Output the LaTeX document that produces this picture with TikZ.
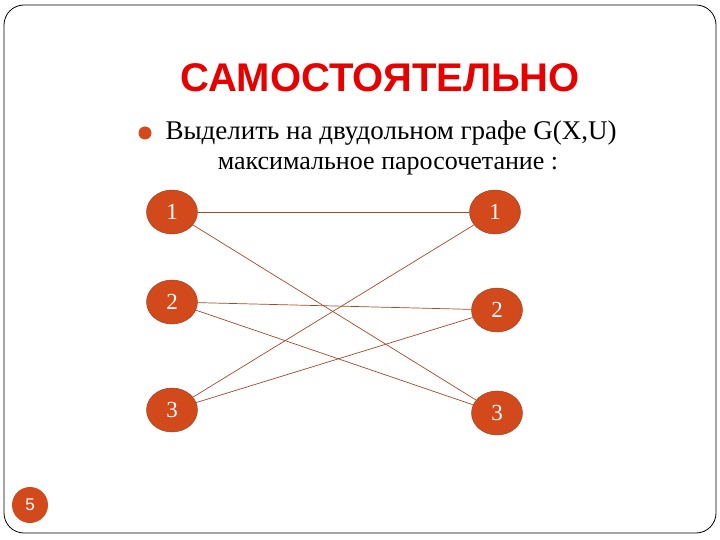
\documentclass[tikz,border=0pt]{standalone}
\usepackage{fontspec}
\setmainfont{Liberation Serif}
\newfontfamily\titlefont{Liberation Sans}
\usetikzlibrary{positioning,shapes.geometric}

\definecolor{knot}{HTML}{D24A1C}
\definecolor{knotrand}{HTML}{9A3A18}
\definecolor{kante}{HTML}{A3482A}
\definecolor{titelrot}{HTML}{E60000}

\begin{document}
\begin{tikzpicture}[
		x=1pt, y=-1pt,
		vtx/.style={
			ellipse, draw=knotrand, fill=knot, text=white,
			minimum width=51pt, minimum height=44pt, inner sep=0pt,
			font=\fontsize{23}{23}\selectfont
		},
		edge/.style={draw=kante, line width=0.7pt}
		]
		\useasboundingbox (0,0) rectangle (720,540);
		% ---- Rahmen
		\draw[line width=0.8pt, rounded corners=20pt] (4,5) rectangle (716,533);
		
		% ---- Titel und Aufgabe
		\node[text=titelrot, font=\titlefont\bfseries\fontsize{40}{40}\selectfont] (titel) at (380,78) {САМОСТОЯТЕЛЬНО};
		\node[anchor=west, font=\fontsize{27}{27}\selectfont] (zeile1) at (162,133) {Выделить на двудольном графе G(X,U)};
		\node[font=\fontsize{26}{26}\selectfont] (zeile2) at (388,166) {максимальное паросочетание :};
		\node[circle, fill=knot, minimum size=13pt, inner sep=0pt] (punkt) at (145,133) {};
		
		% ---- linke Seite
		\node[vtx] (l1) at (172,212) {1};
		\node[vtx] (l2) at (172,302) {2};
		\node[vtx] (l3) at (172,410) {3};
		
		% ---- rechte Seite
		\node[vtx] (r1) at (495,212) {1};
		\node[vtx] (r2) at (497,310) {2};
		\node[vtx] (r3) at (497,413) {3};
		
		% ---- Kanten
		\draw[edge] (l1) -- (r1);
		\draw[edge] (l1) -- (r3);
		\draw[edge] (l2) -- (r2);
		\draw[edge] (l2) -- (r3);
		\draw[edge] (l3) -- (r1);
		\draw[edge] (l3) -- (r2);
		
		% ---- Seitenzahl
		\node[circle, fill=knot, text=white, minimum size=36pt, inner sep=0pt,
			font=\titlefont\fontsize{17}{17}\selectfont] (seite) at (30,505) {5};
	\end{tikzpicture}
\end{document}
